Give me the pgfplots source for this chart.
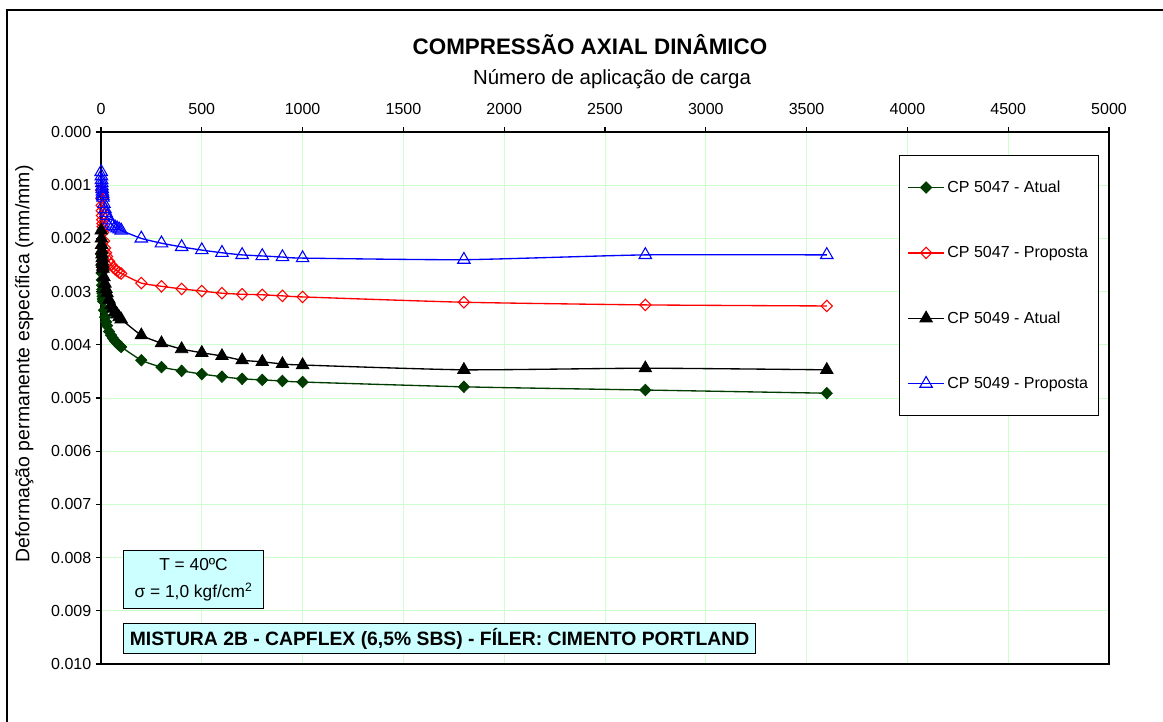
\documentclass[border=0pt]{standalone}
\usepackage{pgfplots}
\pgfplotsset{compat=1.18}
\usepackage{fontspec}
\setmainfont{Liberation Sans}
\definecolor{dkgreen}{RGB}{0,60,0}
\definecolor{gridgreen}{RGB}{204,255,204}
\definecolor{boxcyan}{RGB}{204,255,255}
\pgfplotstableread{
N     g        r        k        b
1     0.00230  0.00110  0.00185  0.00075
2     0.00250  0.00125  0.00200  0.00083
3     0.00265  0.00138  0.00212  0.00090
4     0.00278  0.00148  0.00222  0.00096
5     0.00288  0.00157  0.00230  0.00102
6     0.00296  0.00165  0.00237  0.00107
7     0.00303  0.00172  0.00243  0.00112
8     0.00309  0.00178  0.00248  0.00116
9     0.00314  0.00184  0.00253  0.00120
10    0.00318  0.00189  0.00257  0.00123
15    0.00335  0.00205  0.00273  0.00135
20    0.00348  0.00218  0.00285  0.00145
25    0.00357  0.00227  0.00295  0.00152
30    0.00364  0.00234  0.00303  0.00158
40    0.00375  0.00243  0.00315  0.00166
50    0.00382  0.00249  0.00325  0.00172
60    0.00388  0.00254  0.00332  0.00176
70    0.00393  0.00258  0.00338  0.00179
80    0.00397  0.00261  0.00343  0.00181
90    0.00401  0.00264  0.00348  0.00183
100   0.00404  0.00266  0.00352  0.00185
200   0.00429  0.00284  0.00382  0.00200
300   0.00442  0.00290  0.00397  0.00209
400   0.00449  0.00295  0.00408  0.00216
500   0.00455  0.00299  0.00415  0.00222
600   0.00460  0.00303  0.00421  0.00227
700   0.00464  0.00305  0.00429  0.00231
800   0.00466  0.00306  0.00432  0.00233
900   0.00468  0.00308  0.00436  0.00235
1000  0.00470  0.00310  0.00438  0.00237
1800  0.00479  0.00320  0.00447  0.00240
2700  0.00485  0.00325  0.00444  0.00231
3600  0.00491  0.00327  0.00447  0.00231
}\datatable
\begin{document}
\begin{tikzpicture}
\useasboundingbox (0,0) rectangle (872.25pt,540.75pt);
\draw[line width=0.9pt] (5.25pt,-2pt) -- (5.25pt,533.25pt) -- (875pt,533.25pt);
\node[font=\fontsize{16.8}{20}\selectfont\bfseries] at (442.5pt,507pt) {COMPRESSÃO AXIAL DINÂMICO};
\begin{axis}[
  at={(75.75pt,42.75pt)}, anchor=south west,
  scale only axis, width=756pt, height=399pt,
  xmin=0, xmax=5000, ymin=0, ymax=0.010,
  y dir=reverse,
  scaled x ticks=false, scaled y ticks=false,
  xtick={0,500,1000,1500,2000,2500,3000,3500,4000,4500,5000},
  xticklabels={0,500,1000,1500,2000,2500,3000,3500,4000,4500,5000},
  ytick={0,0.001,0.002,0.003,0.004,0.005,0.006,0.007,0.008,0.009,0.010},
  yticklabels={0.000,0.001,0.002,0.003,0.004,0.005,0.006,0.007,0.008,0.009,0.010},
  xtick pos=right, xticklabel pos=right, ytick pos=left,
  tick align=outside, major tick length=3.75pt,
  tick style={black, line width=0.8pt},
  grid=major, grid style={gridgreen, line width=0.6pt},
  axis line style={black, line width=0.9pt},
  ticklabel style={font=\fontsize{12}{14}\selectfont},
  xticklabel style={yshift=5.5pt},
  xlabel={Número de aplicação de carga},
  xlabel style={font=\fontsize{15.3}{18}\selectfont, at={(axis description cs:0.507,1)}, anchor=south, yshift=28.5pt},
  ylabel={Deformação permanente específica (mm/mm)},
  ylabel style={font=\fontsize{14.6}{18}\selectfont, at={(axis description cs:0,0.564)}, anchor=south, yshift=47pt},
  legend style={at={(0.7917,0.9568)}, anchor=north west, draw=black, line width=0.6pt, fill=white,
    font=\fontsize{12}{14}\selectfont, row sep=35pt, inner ysep=17pt, inner xsep=6pt},
  legend cell align=left,
  legend image code/.code={\draw[mark repeat=2,mark phase=2] plot coordinates {(0pt,0pt) (13.5pt,0pt) (27pt,0pt)};},
  every axis plot/.append style={line width=1pt, smooth, tension=0.35},
]
\addplot[dkgreen, mark=diamond*, mark size=4.3pt, mark options={fill=dkgreen, line width=0.6pt, xscale=1.3}] table[x=N, y=g] {\datatable};
\addlegendentry{CP 5047 - Atual}
\addplot[red, mark=diamond, mark size=4.3pt, mark options={fill=white, line width=0.8pt, xscale=1.3}] table[x=N, y=r] {\datatable};
\addlegendentry{CP 5047 - Proposta}
\addplot[black, mark=triangle*, mark size=5.4pt, mark options={fill=black, line width=0.6pt}] table[x=N, y=k] {\datatable};
\addlegendentry{CP 5049 - Atual}
\addplot[blue, mark=triangle, mark size=5.4pt, mark options={fill=white, line width=0.8pt}] table[x=N, y=b] {\datatable};
\addlegendentry{CP 5049 - Proposta}
\end{axis}
\node[draw=black, line width=0.8pt, fill=boxcyan, anchor=north west, minimum width=105pt, minimum height=43.5pt, align=center, inner sep=2pt, font=\fontsize{13}{20}\selectfont]
  at (92.25pt,128.25pt) {T = 40ºC\\σ = 1,0 kgf/cm\textsuperscript{2}};
\node[draw=black, line width=0.8pt, fill=boxcyan, anchor=north west, minimum width=474pt, minimum height=22.5pt, inner sep=2pt, font=\fontsize{14.5}{17}\selectfont\bfseries]
  at (92.25pt,73.5pt) {MISTURA 2B - CAPFLEX (6,5\% SBS) - FÍLER: CIMENTO PORTLAND};
\end{tikzpicture}
\end{document}
